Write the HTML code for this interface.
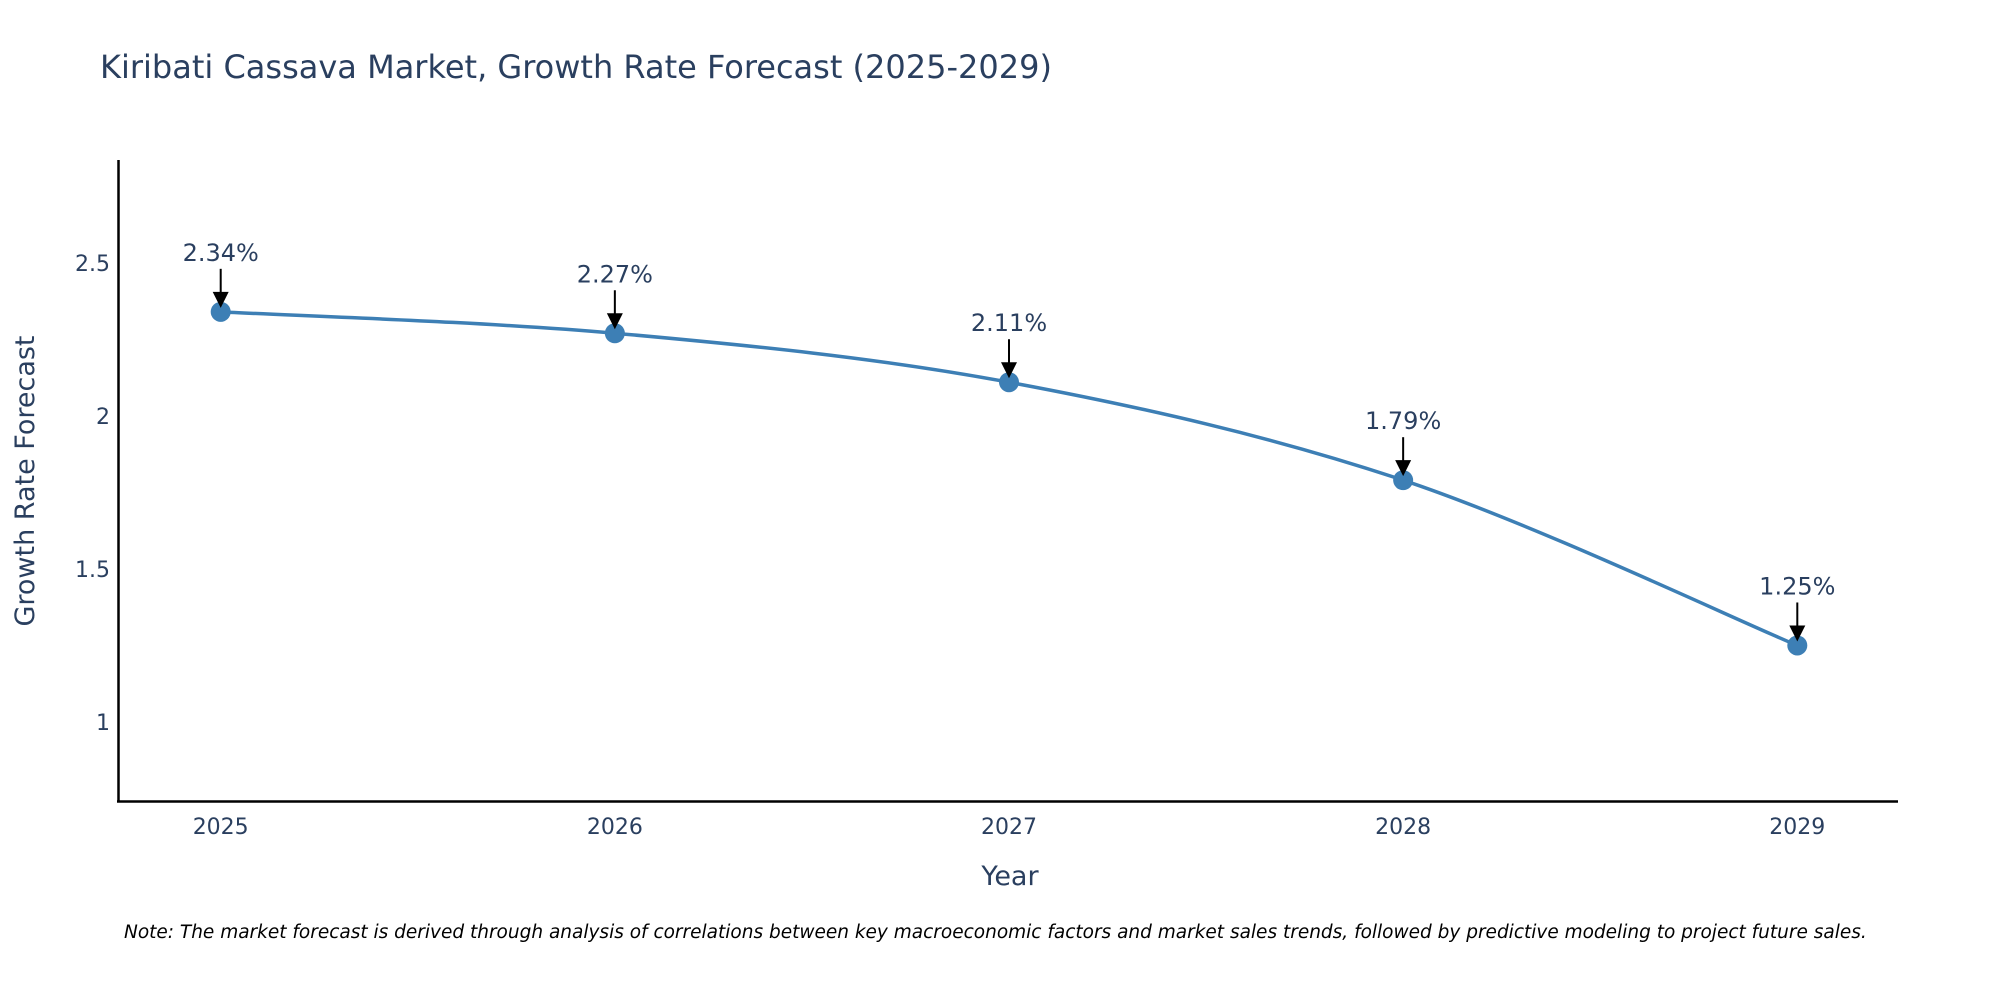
<!DOCTYPE html>
<html><head><meta charset="utf-8"><style>
html,body{margin:0;padding:0;background:#fff;}
svg{display:block;font-family:"DejaVu Sans","Liberation Sans",sans-serif;}
</style></head><body>
<svg id="chart" width="2000" height="1000" viewBox="0 0 2000 1000">
<text x="100" y="78" font-size="32" fill="#2a3f5f">Kiribati Cassava Market, Growth Rate Forecast (2025-2029)</text>
<g id="yticks"></g>
<g id="xticks"></g>
<line x1="118.5" y1="160" x2="118.5" y2="802" stroke="#000" stroke-width="2.5"/>
<line x1="117" y1="801.5" x2="1898" y2="801.5" stroke="#000" stroke-width="2.5"/>
<g id="series"></g>
<g id="annots"></g>
<text transform="translate(34,481) rotate(-90)" text-anchor="middle" font-size="27" fill="#2a3f5f">Growth Rate Forecast</text>
<text x="1010" y="885" text-anchor="middle" font-size="27" fill="#2a3f5f">Year</text>
<text x="124" y="938" font-size="18.5" font-style="italic" fill="#000">Note: The market forecast is derived through analysis of correlations between key macroeconomic factors and market sales trends, followed by predictive modeling to project future sales.</text>
</svg>
<script>
const years = [2025, 2026, 2027, 2028, 2029];
const growth = [2.34, 2.27, 2.11, 1.79, 1.25];
const labels = ["2.34%", "2.27%", "2.11%", "1.79%", "1.25%"];
const yTickVals = [1, 1.5, 2, 2.5];
const yTickLabels = ["1", "1.5", "2", "2.5"];

const NS = "http://www.w3.org/2000/svg";
const xs = v => 220.7 + (v - 2025) * 394.15;
const ys = v => 722 - (v - 1) * 306.1;
function mk(tag, attrs, parent, text) {
  const e = document.createElementNS(NS, tag);
  for (const k in attrs) e.setAttribute(k, attrs[k]);
  if (text !== undefined) e.textContent = text;
  parent.appendChild(e);
  return e;
}
const yt = document.getElementById('yticks');
yTickVals.forEach((v, i) => {
  const t = mk('text', {x: 110, y: ys(v) + 8, 'text-anchor': 'end', 'font-size': 22, fill: '#2a3f5f'}, yt, yTickLabels[i]);
  
  
});
const xt = document.getElementById('xticks');
years.forEach(y => {
  const t = mk('text', {x: xs(y), y: 834, 'text-anchor': 'middle', 'font-size': 22, fill: '#2a3f5f'}, xt, String(y));
  
  
});
const pts = years.map((y, i) => [xs(y), ys(growth[i])]);
let d = `M${pts[0][0]},${pts[0][1]}`;
const s = 1 / 6;
for (let i = 0; i < pts.length - 1; i++) {
  const p0 = pts[Math.max(i - 1, 0)], p1 = pts[i], p2 = pts[i + 1], p3 = pts[Math.min(i + 2, pts.length - 1)];
  const c1 = [p1[0] + (p2[0] - p0[0]) * s, p1[1] + (p2[1] - p0[1]) * s];
  const c2 = [p2[0] - (p3[0] - p1[0]) * s, p2[1] - (p3[1] - p1[1]) * s];
  d += ` C${c1[0]},${c1[1]} ${c2[0]},${c2[1]} ${p2[0]},${p2[1]}`;
}
const ser = document.getElementById('series');
const line = mk('path', {d: d, fill: 'none', stroke: '#3d7fb5', 'stroke-width': 3.5}, ser);


pts.forEach(p => {
  const c = mk('circle', {cx: p[0], cy: p[1], r: 10, fill: '#3d7fb5'}, ser);
  
  
});
const an = document.getElementById('annots');
pts.forEach((p, i) => {
  const l = mk('line', {x1: p[0], y1: p[1] - 43, x2: p[0], y2: p[1] - 18, stroke: '#000', 'stroke-width': 2}, an);
  
  
  const h = mk('polygon', {points: `${p[0]-8},${p[1]-20} ${p[0]+8},${p[1]-20} ${p[0]},${p[1]-4}`, fill: '#000'}, an);
  
  
  const t = mk('text', {x: p[0], y: p[1] - 51, 'text-anchor': 'middle', 'font-size': 24, fill: '#2a3f5f'}, an, labels[i]);
  
  
});
</script>
</body></html>
